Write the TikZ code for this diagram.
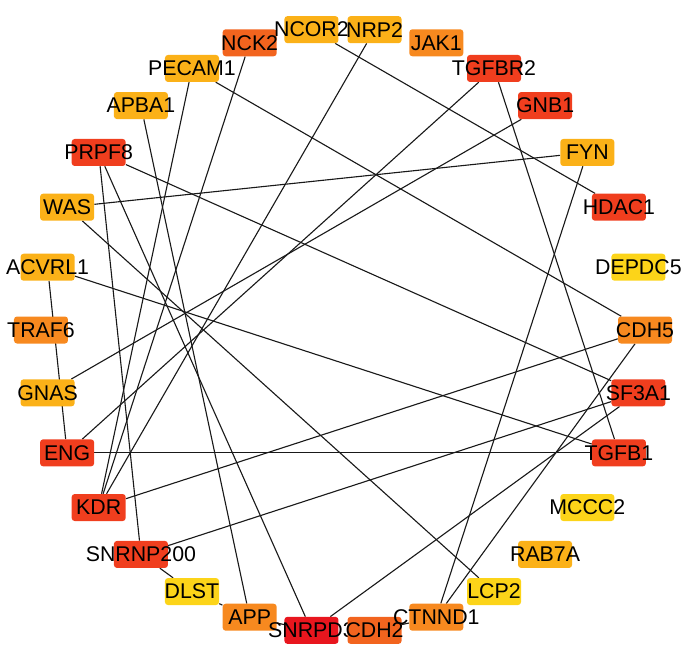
\documentclass[tikz,border=0pt]{standalone}
\usepackage{fontspec}
\setmainfont{Liberation Sans}
\usetikzlibrary{backgrounds}

\definecolor{cyel}{HTML}{FCD419}
\definecolor{clor}{HTML}{FBB118}
\definecolor{corg}{HTML}{F7891F}
\definecolor{cdor}{HTML}{F2641E}
\definecolor{crdo}{HTML}{F03E1E}
\definecolor{cred}{HTML}{E8161E}

\tikzset{
  gene/.style={rectangle, rounded corners=0.09cm, minimum width=1.62cm,
    minimum height=0.81cm, inner sep=0pt},
  link/.style={draw=black!90, line width=0.95pt}
}

\begin{document}
\begin{tikzpicture}[font=\fontsize{18.2}{20}\selectfont]
  \useasboundingbox (-10.29,-9.78) rectangle (10.68,9.9);

  % genes on the circle, anticlockwise so that later boxes sit on top
  \foreach \ang/\id/\txt/\col in {
      108/nck2/NCK2/cdor, 120/pecam1/PECAM1/clor, 132/apba1/APBA1/clor,
      144/prpf8/PRPF8/crdo, 156/was/WAS/clor, 168/acvrl1/ACVRL1/clor,
      180/traf6/TRAF6/corg, 192/gnas/GNAS/clor, 204/eng/ENG/crdo,
      216/kdr/KDR/crdo, 228/snrnp200/SNRNP200/crdo, 240/dlst/DLST/cyel,
      252/app/APP/corg, 264/snrpd3/SNRPD3/cred, 276/cdh2/CDH2/cdor,
      288/ctnnd1/CTNND1/corg, 300/lcp2/LCP2/cyel, 312/rab7a/RAB7A/clor,
      324/mccc2/MCCC2/cyel, 336/tgfb1/TGFB1/crdo, 348/sf3a1/SF3A1/crdo,
      360/cdh5/CDH5/corg, 12/depdc5/DEPDC5/cyel, 24/hdac1/HDAC1/crdo,
      36/fyn/FYN/clor, 48/gnb1/GNB1/crdo, 60/tgfbr2/TGFBR2/crdo,
      72/jak1/JAK1/corg, 84/nrp2/NRP2/clor, 96/ncor2/NCOR2/clor} {
    \node[gene, fill=\col, label={center:\txt}] (\id) at (\ang:9.06) {};
  }

  % interactions
  \begin{pgfonlayer}{background}
    \foreach \a/\b in {ncor2/hdac1, nrp2/kdr, nck2/kdr, pecam1/kdr,
        pecam1/cdh5, apba1/app, prpf8/snrnp200, prpf8/snrpd3, prpf8/sf3a1,
        was/fyn, was/lcp2, acvrl1/eng, acvrl1/tgfb1, gnas/gnb1,
        tgfbr2/eng, tgfbr2/tgfb1, eng/tgfb1, cdh5/kdr, cdh5/ctnnd1,
        fyn/ctnnd1, snrnp200/sf3a1, snrpd3/sf3a1, snrnp200/dlst,
        dlst/app, app/snrpd3, cdh2/ctnnd1}
      \draw[link] (\a) -- (\b);
  \end{pgfonlayer}
\end{tikzpicture}
\end{document}
